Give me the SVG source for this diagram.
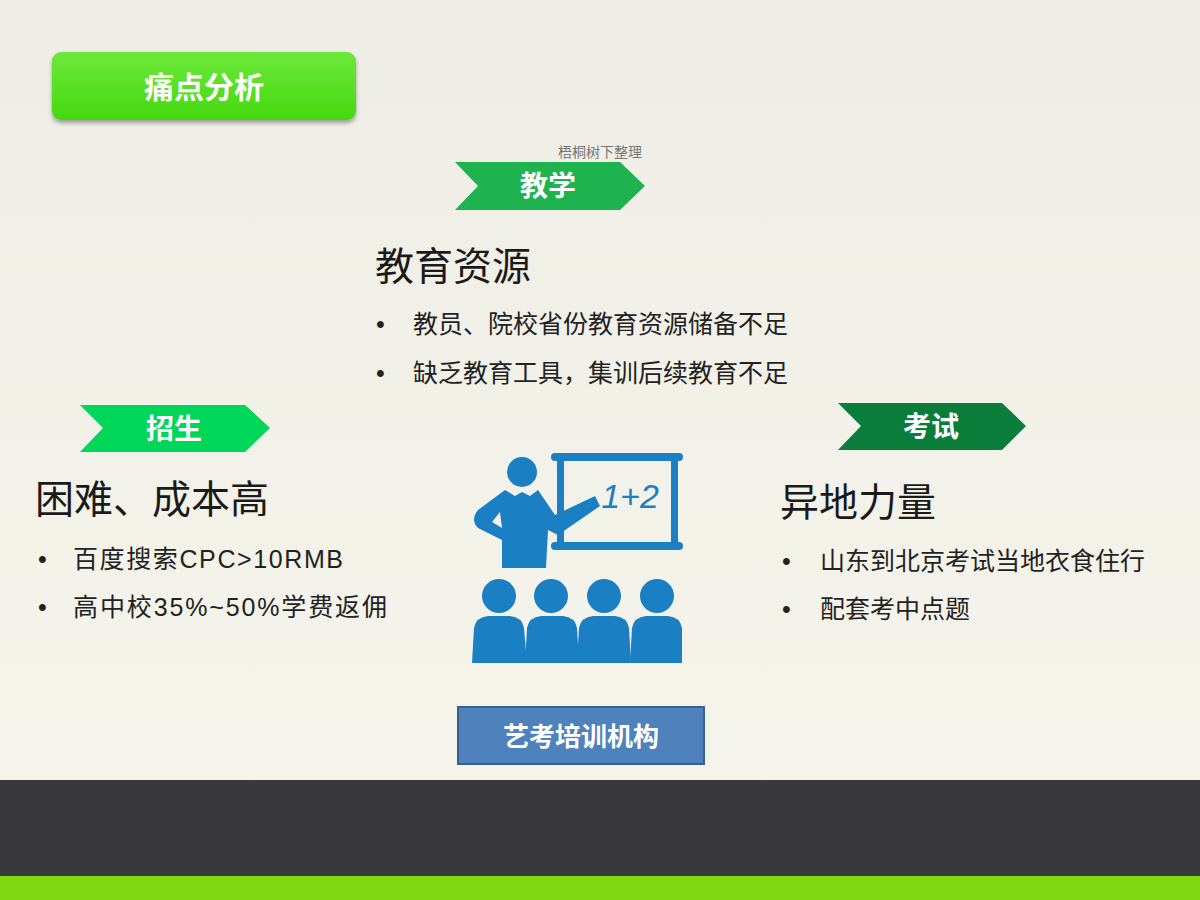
<svg xmlns="http://www.w3.org/2000/svg" width="1200" height="900" viewBox="0 0 1200 900">
<defs>
<linearGradient id="bg" x1="0" y1="0" x2="0" y2="1"><stop offset="0" stop-color="#efeee6"/><stop offset="1" stop-color="#f6f5ec"/></linearGradient>
<linearGradient id="btn" x1="0" y1="0" x2="0" y2="1"><stop offset="0" stop-color="#6ee83a"/><stop offset="1" stop-color="#44d80f"/></linearGradient>
<filter id="sh" x="-10%" y="-20%" width="120%" height="150%"><feDropShadow dx="0" dy="3" stdDeviation="2" flood-color="#000" flood-opacity="0.35"/></filter>
<style>
.cn{font-family:"Liberation Sans","Noto Sans CJK SC",sans-serif}
.h{font-size:39px;fill:#1a1a1a}
.b{font-size:25px;fill:#222}
.w{fill:#fff;font-weight:bold;text-anchor:middle;dominant-baseline:central}
.ic{fill:#1b7fc3}
</style>
</defs>
<rect width="1200" height="900" fill="url(#bg)"/>
<rect x="0" y="780" width="1200" height="96" fill="#39393b"/>
<rect x="0" y="876" width="1200" height="24" fill="#7dd80f"/>

<g id="title">
<rect x="52" y="52" width="304" height="68" rx="9" fill="url(#btn)" filter="url(#sh)"/>
<text x="204" y="87" class="cn w" font-size="30">痛点分析</text>
</g>
<text x="600" y="157" class="cn" font-family="Liberation Serif,Noto Sans CJK SC,serif" font-size="14" fill="#777" text-anchor="middle">梧桐树下整理</text>

<g id="teach">
<polygon points="455,162 620,162 645,186 620,210 455,210 478,186" fill="#1fb350"/>
<text x="548" y="186" class="cn w" font-size="28">教学</text>
<text x="375" y="280" class="cn h">教育资源</text>
<text x="376" y="333" class="cn b">•</text><text x="413" y="333" class="cn b">教员、院校省份教育资源储备不足</text>
<text x="376" y="382" class="cn b">•</text><text x="413" y="382" class="cn b">缺乏教育工具，集训后续教育不足</text>
</g>

<g id="recruit">
<polygon points="80,405 245,405 270,428 245,452 80,452 103,428" fill="#00d65a"/>
<text x="174" y="429" class="cn w" font-size="28">招生</text>
<text x="35" y="513" class="cn h">困难、成本高</text>
<text x="38" y="568" class="cn b">•</text><text x="73" y="568" class="cn b" textLength="270">百度搜索CPC&gt;10RMB</text>
<text x="38" y="616" class="cn b">•</text><text x="73" y="616" class="cn b" textLength="314">高中校35%~50%学费返佣</text>
</g>

<g id="exam">
<polygon points="838,403 1002,403 1026,426 1002,450 838,450 861,426" fill="#0b7d3a"/>
<text x="931" y="427" class="cn w" font-size="28">考试</text>
<text x="780" y="516" class="cn h">异地力量</text>
<text x="782" y="570" class="cn b">•</text><text x="820" y="570" class="cn b">山东到北京考试当地衣食住行</text>
<text x="782" y="618" class="cn b">•</text><text x="820" y="618" class="cn b">配套考中点题</text>
</g>

<g id="icon">
<rect x="551" y="453" width="132" height="8" rx="4" class="ic"/>
<rect x="551" y="542" width="132" height="8" rx="4" class="ic"/>
<rect x="557" y="458" width="7" height="88" class="ic"/>
<rect x="671" y="458" width="7" height="88" class="ic"/>
<text x="630" y="508" font-family="Liberation Sans,sans-serif" font-size="34" font-style="italic" fill="#1b7fc3" text-anchor="middle">1+2</text>
<circle cx="522" cy="472" r="15" class="ic"/>
<path class="ic" d="M505,490 L515,496 L522,492 L530,496 L538,490 L555,515 L595,496 L600,506 L558,535 L548,530 L546,568 L502,568 L502,540 L478,528 Q470,520 478,510 Z M500,512 L492,522 L502,528 Z"/>
<g class="ic">
<circle cx="499" cy="596" r="17"/><circle cx="551" cy="596" r="17"/><circle cx="604" cy="596" r="17"/><circle cx="657" cy="596" r="17"/>
<path d="M472,663 L474,628 Q476,617 488,616 L510,616 Q522,617 524,628 L527,663 Z"/>
<path d="M525,663 L527,628 Q529,617 541,616 L563,616 Q575,617 577,628 L579,663 Z"/>
<path d="M577,663 L579,628 Q581,617 593,616 L615,616 Q627,617 629,628 L631,663 Z"/>
<path d="M630,663 L632,628 Q634,617 646,616 L668,616 Q680,617 682,628 L682,663 Z"/>
</g>
</g>

<g id="org">
<rect x="458" y="707" width="246" height="57" fill="#4f81bd" stroke="#3a5f8a" stroke-width="2"/>
<text x="581" y="737" class="cn w" font-size="26">艺考培训机构</text>
</g>
<g id="connectors"/>
</svg>
